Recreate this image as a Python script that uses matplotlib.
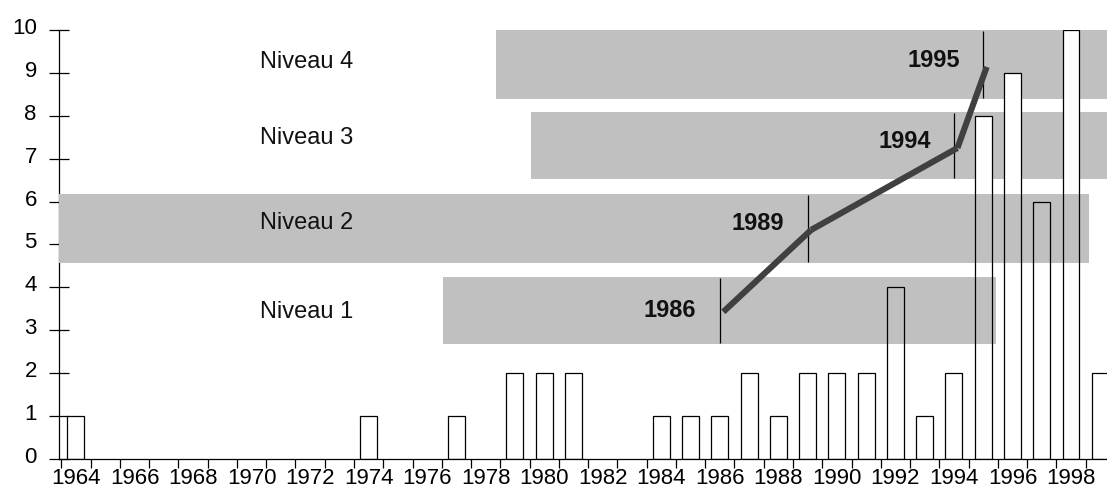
import numpy as np
import matplotlib.pyplot as plt
from matplotlib.transforms import ScaledTranslation

plt.rcParams['font.family'] = ['Liberation Sans', 'DejaVu Sans']

# yearly counts
years = np.arange(1964, 2000)
counts = [1, 0, 0, 0, 0, 0, 0, 0, 0, 0,
          1, 0, 0, 1, 0, 2, 2, 2, 0, 0,
          1, 1, 1, 2, 1, 2, 2, 2, 4, 1,
          2, 8, 9, 6, 10, 2]

# levels: name, year range and vertical extent
level_names = ['Niveau 1', 'Niveau 2', 'Niveau 3', 'Niveau 4']
level_start = [1976.54, 1963.0, 1979.55, 1978.35]
level_end = [1995.44, 1998.62, 2000.5, 2000.5]
level_low = [2.68, 4.57, 6.53, 8.39]
level_high = [4.24, 6.18, 8.09, 10.0]
level_label_y = [3.43, 5.50, 7.48, 9.25]

# year each level was reached, and the path through them
stage_years = [1986, 1989, 1994, 1995]
stage_values = [3.43, 5.34, 7.25, 9.14]
stage_label_y = [3.47, 5.50, 7.39, 9.28]

band_color = '#c0c0c0'
bar_w = 0.58

fig = plt.figure(figsize=(11.07, 4.91), dpi=100)
ax = fig.add_axes([59 / 1107, 32 / 491, 1 - 59 / 1107, 429 / 491])

counts = np.array(counts)
nz = counts > 0

# upper bands sit under the bars, lower bands over them
for i in range(4):
    z = 3 if i < 2 else 1
    ax.barh((level_low[i] + level_high[i]) / 2, level_end[i] - level_start[i],
            left=level_start[i], height=level_high[i] - level_low[i],
            color=band_color, edgecolor='none', zorder=z)

ax.bar(years[nz], counts[nz], width=bar_w, color='white', edgecolor='none', zorder=2)
ax.bar(years[nz], counts[nz], width=bar_w, fill=False, edgecolor='black',
       linewidth=0.9, zorder=4)

# stage markers and labels
for i, yr in enumerate(stage_years):
    ax.vlines(yr, level_low[i] + 0.03, level_high[i] - 0.03, color='black',
              linewidth=0.9, zorder=5)
    ax.text(yr - 0.8, stage_label_y[i], str(yr), ha='right', va='center',
            fontsize=17, fontweight='bold', color='#111111', zorder=7)

for i in range(len(stage_years) - 1):
    ax.plot([stage_years[i] + 0.12, stage_years[i + 1] + 0.12],
            [stage_values[i], stage_values[i + 1]], color='#404040',
            linewidth=4.4, solid_capstyle='butt', zorder=6)

for name, y in zip(level_names, level_label_y):
    ax.text(1970.3, y, name, ha='left', va='center', fontsize=17,
            color='#111111', zorder=7)

ax.set_xlim(1963.42, 1999.23)
ax.set_ylim(0, 10)

ax.spines['top'].set_visible(False)
ax.spines['right'].set_visible(False)
ax.spines['left'].set_linewidth(0.9)
ax.spines['bottom'].set_linewidth(0.9)

ax.set_yticks(range(0, 11))
ax.tick_params(axis='y', direction='inout', length=15, width=0.9, pad=8.5,
               labelsize=16)
for lab in ax.get_yticklabels():
    lab.set_transform(lab.get_transform() + ScaledTranslation(0, 0.04, fig.dpi_scale_trans))

ax.set_xticks(np.arange(1964, 1999, 2))
ax.set_xticklabels([str(y) for y in range(1964, 1999, 2)])
ax.set_xticks(np.arange(1963.5, 1999.5, 1), minor=True)
ax.tick_params(axis='x', which='major', length=0, pad=6.5, labelsize=16)
ax.tick_params(axis='x', which='minor', direction='out', length=6.5, width=0.9)

fig.savefig('out.png', dpi=100)
